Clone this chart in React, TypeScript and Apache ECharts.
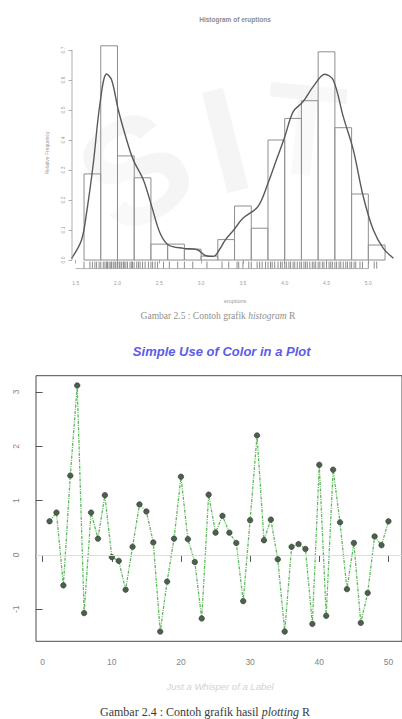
import React, { useEffect, useRef } from 'react';
import * as echarts from 'echarts';

// ---------- Histogram (top figure) ----------
const histBreaks = [1.6, 1.8, 2.0, 2.2, 2.4, 2.6, 2.8, 3.0, 3.2, 3.4, 3.6, 3.8, 4.0, 4.2, 4.4, 4.6, 4.8, 5.0, 5.2];
const histDensity = [0.287, 0.714, 0.347, 0.274, 0.053, 0.053, 0.036, 0.013, 0.068, 0.18, 0.106, 0.40, 0.472, 0.531, 0.694, 0.441, 0.22, 0.05];
const densX = [1.45, 1.57, 1.63, 1.71, 1.79, 1.87, 1.93, 2.01, 2.11, 2.19, 2.31, 2.41, 2.51, 2.61, 2.79, 2.95, 3.05, 3.15, 3.22, 3.29, 3.39, 3.5, 3.68, 3.8, 3.9, 4.0, 4.1, 4.22, 4.34, 4.48, 4.58, 4.7, 4.82, 4.94, 5.06, 5.18, 5.3];
const densY = [0.005, 0.067, 0.157, 0.32, 0.52, 0.62, 0.6, 0.5, 0.4, 0.333, 0.267, 0.178, 0.089, 0.05, 0.039, 0.035, 0.015, 0.012, 0.035, 0.067, 0.1, 0.139, 0.178, 0.256, 0.333, 0.41, 0.494, 0.528, 0.578, 0.619, 0.6, 0.478, 0.367, 0.211, 0.1, 0.039, 0.006];
const rugValues = [1.6, 1.67, 1.7, 1.73, 1.75, 1.78, 1.8, 1.83, 1.85, 1.87, 1.88, 1.9, 1.92, 1.93, 1.95, 1.97, 1.98, 2.0, 2.02, 2.03, 2.05, 2.07, 2.08, 2.1, 2.12, 2.15, 2.17, 2.18, 2.2, 2.23, 2.25, 2.27, 2.3, 2.33, 2.37, 2.4, 2.42, 2.45, 2.48, 2.55, 2.62, 2.72, 2.8, 2.9, 3.07, 3.25, 3.33, 3.43, 3.45, 3.5, 3.57, 3.6, 3.67, 3.7, 3.73, 3.77, 3.8, 3.83, 3.85, 3.88, 3.92, 3.95, 3.97, 4.0, 4.02, 4.05, 4.07, 4.1, 4.12, 4.15, 4.18, 4.2, 4.23, 4.25, 4.27, 4.3, 4.33, 4.35, 4.37, 4.4, 4.42, 4.45, 4.47, 4.5, 4.53, 4.55, 4.57, 4.6, 4.62, 4.65, 4.67, 4.7, 4.73, 4.75, 4.78, 4.8, 4.83, 4.85, 4.9, 4.93, 5.0, 5.07, 5.1];
const histXTicks = [1.5, 2.0, 2.5, 3.0, 3.5, 4.0, 4.5, 5.0];
const histYTicks = [0, 0.1, 0.2, 0.3, 0.4, 0.5, 0.6, 0.7];

// ---------- Line plot (bottom figure) ----------
const plotIndex = Array.from({ length: 50 }, (_, i) => i + 1);
const plotValues = [
  0.62, 0.78, -0.56, 1.46, 3.12, -1.07, 0.78, 0.3, 1.1, -0.04,
  -0.11, -0.64, 0.15, 0.93, 0.8, 0.23, -1.41, -0.49, 0.3, 1.44,
  0.29, -0.13, -1.17, 1.11, 0.41, 0.72, 0.41, 0.22, -0.85, 0.64,
  2.2, 0.27, 0.65, -0.08, -1.41, 0.15, 0.2, 0.11, -1.27, 1.66,
  -1.12, 1.57, 0.6, -0.63, 0.22, -1.25, -0.7, 0.34, 0.18, 0.62,
];
const plotXTicks = [0, 10, 20, 30, 40, 50];
const plotYTicks = [-1, 0, 1, 2, 3];

const SANS = 'Liberation Sans';
const SERIF = 'Liberation Serif';

export default function App() {
  const ref = useRef<HTMLDivElement>(null);

  useEffect(() => {
    document.body.style.margin = '0';
    const chart = echarts.init(ref.current!, null, { renderer: 'svg' });

    const hXMin = 1.456, hXMax = 5.344, hYMin = -0.0286, hYMax = 0.743;
    const pXMin = -0.96, pXMax = 51.96, pYMin = -1.59, pYMax = 3.3;

    const histData = histDensity.map((d, i) => [histBreaks[i], histBreaks[i + 1], d]);

    const wm = (text: string, x: number, y: number, rot: number, size: number, fill: string) => ({
      type: 'text', x, y, rotation: rot, z: -10, silent: true,
      style: { text, fontSize: size, fontWeight: 'bold', fill, fontFamily: SANS, align: 'center', verticalAlign: 'middle' },
    });

    const option: any = {
      animation: false,
      backgroundColor: '#ffffff',
      grid: [
        { left: 72, top: 37.1, width: 325.1, height: 231.5, show: false },
        { left: 36, top: 375.7, width: 367.6, height: 265.6, show: true, borderColor: '#4d4d4d', borderWidth: 1, backgroundColor: 'transparent' },
      ],
      xAxis: [
        {
          type: 'value', gridIndex: 0, min: hXMin, max: hXMax,
          axisLine: { show: false }, splitLine: { show: false },
          axisTick: { show: true, customValues: histXTicks, length: 3.5, lineStyle: { color: '#9a9a9a', width: 0.8 } },
          axisLabel: { customValues: histXTicks, formatter: (v: number) => v.toFixed(1), fontSize: 5, color: '#a0a0a0', margin: 12, fontFamily: SANS },
        },
        {
          type: 'value', gridIndex: 1, min: pXMin, max: pXMax,
          axisLine: { show: false }, splitLine: { show: false },
          axisTick: { show: true, customValues: plotXTicks, length: 7, lineStyle: { color: '#555', width: 1 } },
          axisLabel: { customValues: plotXTicks, fontSize: 8.5, color: '#858585', margin: 16, fontFamily: SANS },
        },
      ],
      yAxis: [
        {
          type: 'value', gridIndex: 0, min: hYMin, max: hYMax,
          axisLine: { show: false }, splitLine: { show: false },
          axisTick: { show: true, customValues: histYTicks, length: 3.5, lineStyle: { color: '#9a9a9a', width: 0.8 } },
          axisLabel: { customValues: histYTicks, formatter: (v: number) => v.toFixed(1), fontSize: 5, color: '#a0a0a0', margin: 7, rotate: 90, fontFamily: SANS },
        },
        {
          type: 'value', gridIndex: 1, min: pYMin, max: pYMax,
          axisLine: { show: false }, splitLine: { show: false },
          axisTick: { show: true, customValues: plotYTicks, length: 7, lineStyle: { color: '#555', width: 1 } },
          axisLabel: { customValues: plotYTicks, fontSize: 8.5, color: '#858585', margin: 16, rotate: 90, fontFamily: SANS },
        },
      ],
      series: [
        {
          type: 'custom', xAxisIndex: 0, yAxisIndex: 0, data: histData,
          encode: { x: [0, 1], y: 2 },
          renderItem: (_p: any, api: any) => {
            const a = api.coord([api.value(0), api.value(2)]);
            const b = api.coord([api.value(1), 0]);
            return { type: 'rect', shape: { x: a[0], y: a[1], width: b[0] - a[0], height: b[1] - a[1] }, style: { fill: 'rgba(255,255,255,0.45)', stroke: '#8e8e8e', lineWidth: 1 } };
          },
          z: 2,
        },
        {
          type: 'line', xAxisIndex: 0, yAxisIndex: 0, data: densX.map((x, i) => [x, densY[i]]),
          smooth: 0.35, symbol: 'none', clip: true,
          lineStyle: { color: '#5a5a5a', width: 1.4 }, z: 3,
        },
        {
          type: 'custom', xAxisIndex: 0, yAxisIndex: 0, data: rugValues.map((v) => [v, hYMin]),
          encode: { x: 0, y: 1 },
          renderItem: (_p: any, api: any) => {
            const p = api.coord([api.value(0), api.value(1)]);
            return { type: 'line', shape: { x1: p[0], y1: p[1], x2: p[0], y2: p[1] - 7 }, style: { stroke: '#6f6f6f', lineWidth: 0.8 } };
          },
          z: 3,
        },
        {
          type: 'line', xAxisIndex: 0, yAxisIndex: 0, clip: false, symbol: 'none',
          data: [[histXTicks[0], hYMin], [histXTicks[histXTicks.length - 1], hYMin]],
          lineStyle: { color: '#9a9a9a', width: 0.8 }, z: 3,
        },
        {
          type: 'line', xAxisIndex: 0, yAxisIndex: 0, clip: false, symbol: 'none',
          data: [[hXMin, histYTicks[0]], [hXMin, histYTicks[histYTicks.length - 1]]],
          lineStyle: { color: '#9a9a9a', width: 0.8 }, z: 3,
        },
        {
          type: 'line', xAxisIndex: 1, yAxisIndex: 1,
          data: plotIndex.map((x, i) => [x, plotValues[i]]),
          symbol: 'circle', symbolSize: 5.5,
          itemStyle: { color: '#4f5f4f', borderColor: '#2f3d2f', borderWidth: 0.6 },
          lineStyle: { color: '#5cb85c', width: 1.3, type: [3, 1.2, 1, 1.2] },
          markLine: {
            silent: true, symbol: 'none', label: { show: false },
            lineStyle: { color: '#dddddd', type: 'solid', width: 1 },
            data: [{ yAxis: 0 }],
          },
          z: 3,
        },
      ],
      graphic: [
        wm('S', 135, 170, 0.55, 150, '#f5f5f5'),
        wm('I', 225, 140, 0.25, 150, '#f5f5f5'),
        wm('T', 305, 130, -0.1, 130, '#f5f5f5'),
        { type: 'text', x: 235, y: 19, style: { text: 'Histogram of eruptions', fontSize: 6.5, fontWeight: 'bold', fill: '#8c8c8c', fontFamily: SANS, align: 'center', verticalAlign: 'middle' } },
        { type: 'text', x: 47, y: 153, rotation: Math.PI / 2, style: { text: 'Relative Frequency', fontSize: 5, fill: '#9a9a9a', fontFamily: SANS, align: 'center', verticalAlign: 'middle' } },
        { type: 'text', x: 235, y: 301, style: { text: 'eruptions', fontSize: 5.5, fill: '#9a9a9a', fontFamily: SANS, align: 'center', verticalAlign: 'middle' } },
        {
          type: 'text', x: 218, y: 316,
          style: {
            text: '{n|Gambar 2.5 : Contoh grafik }{i|histogram}{n| R}',
            align: 'center', verticalAlign: 'middle',
            rich: {
              n: { fontSize: 9.5, fill: '#8f8f8f', fontFamily: SERIF },
              i: { fontSize: 9.5, fill: '#8f8f8f', fontFamily: SERIF, fontStyle: 'italic' },
            },
          },
        },
        { type: 'text', x: 221.7, y: 351, style: { text: 'Simple Use of Color in a Plot', fontSize: 13, fontWeight: 'bold', fontStyle: 'italic', fill: '#5c5cea', fontFamily: SANS, align: 'center', verticalAlign: 'middle' } },
        { type: 'text', x: 220, y: 686, style: { text: 'Just a Whisper of a Label', fontSize: 9.5, fontStyle: 'italic', fill: '#d2d2d2', fontFamily: SANS, align: 'center', verticalAlign: 'middle' } },
        {
          type: 'text', x: 205, y: 712,
          style: {
            text: '{n|Gambar 2.4 : Contoh grafik hasil }{i|plotting}{n| R}',
            align: 'center', verticalAlign: 'middle',
            rich: {
              n: { fontSize: 12, fill: '#3a3a3a', fontFamily: SERIF },
              i: { fontSize: 12, fill: '#3a3a3a', fontFamily: SERIF, fontStyle: 'italic' },
            },
          },
        },
      ],
    };

    chart.setOption(option);
    return () => chart.dispose();
  }, []);

  return <div ref={ref} style={{ position: 'absolute', left: 0, top: 0, width: 402, height: 719 }} />;
}
